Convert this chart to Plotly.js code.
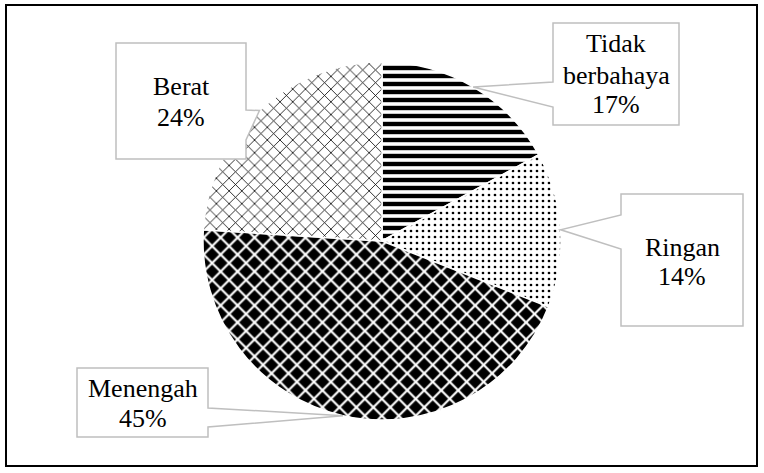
<!DOCTYPE html>
<html><head><meta charset="utf-8">
<script src="https://cdn.plot.ly/plotly-3.0.1.min.js"></script>
<style>html,body{margin:0;padding:0;background:#fff}#chart{width:764px;height:473px}</style>
</head><body><div id="chart"></div>
<script>
// ---- data ----
const categories = ["Tidak berbahaya", "Ringan", "Menengah", "Berat"];
const values = [17, 14, 45, 24];

// ---- styles (not data) ----
const W = 764, H = 473;
const pieCx = 382, pieCy = 241, pieR = 179;
const patShapes = ["-", ".", "x", "x"];
const patFg = ["#000", "#000", "#fff", "#000"];
const patBg = ["#fff", "#fff", "#000", "#fff"];
const patSize = [8, 6, 12, 9];
const patSolid = [0.55, 0.16, 0.33, 0.17];
// callout boxes in pixels
const boxes = [
  {x0: 553, x1: 679, y0: 23, y1: 125, side: "left", j1: 82, j2: 107, base: [53, 84, 113]},
  {x0: 621, x1: 743, y0: 194, y1: 326, side: "left", j1: 215, j2: 249, base: [256, 285]},
  {x0: 77, x1: 208, y0: 368, y1: 437, side: "right", j1: 408, j2: 427, base: [397, 427]},
  {x0: 116, x1: 246, y0: 43, y1: 159, side: "right", j1: 110, j2: 140, base: [96, 127]}
];
const fontFam = "Liberation Serif, Times New Roman, serif";
const fs = 26;

const px = x => x / W;
const py = y => 1 - y / H;

const total = values.reduce((a, b) => a + b, 0);
let cum = 0;
const shapes = [];
const annotations = [];
categories.forEach((c, i) => {
  const mid = (cum + values[i] / 2) / total * 2 * Math.PI;
  cum += values[i];
  const tx = pieCx + pieR * Math.sin(mid);
  const ty = pieCy - pieR * Math.cos(mid);
  const b = boxes[i];
  let p;
  if (b.side === "left") {
    p = `M${px(b.x0)},${py(b.y0)} L${px(b.x1)},${py(b.y0)} L${px(b.x1)},${py(b.y1)} L${px(b.x0)},${py(b.y1)} L${px(b.x0)},${py(b.j2)} L${px(tx)},${py(ty)} L${px(b.x0)},${py(b.j1)} Z`;
  } else {
    p = `M${px(b.x0)},${py(b.y0)} L${px(b.x1)},${py(b.y0)} L${px(b.x1)},${py(b.j1)} L${px(tx)},${py(ty)} L${px(b.x1)},${py(b.j2)} L${px(b.x1)},${py(b.y1)} L${px(b.x0)},${py(b.y1)} Z`;
  }
  shapes.push({type: "path", xref: "paper", yref: "paper", path: p,
    fillcolor: "#fff", line: {color: "#bfbfbf", width: 1.5}, layer: "above"});
  const lines = c.split(" ").concat([Math.round(values[i] / total * 100) + "%"]);
  const cx = (b.x0 + b.x1) / 2;
  lines.forEach((t, k) => {
    annotations.push({xref: "paper", yref: "paper", x: px(cx), y: py(b.base[k] - 9),
      xanchor: "center", yanchor: "middle", showarrow: false, text: t,
      font: {family: fontFam, size: fs, color: "#000"}});
  });
});
shapes.push({type: "rect", xref: "paper", yref: "paper", x0: px(6), x1: px(757), y0: py(5), y1: py(466),
  line: {color: "#000", width: 2}, fillcolor: "rgba(0,0,0,0)", layer: "above"});

const trace = {
  type: "pie", labels: categories, values: values, sort: false,
  direction: "clockwise", rotation: 0, textinfo: "none", hoverinfo: "none",
  showlegend: false,
  domain: {x: [px(pieCx - pieR), px(pieCx + pieR)], y: [py(pieCy + pieR), py(pieCy - pieR)]},
  marker: {colors: patBg, line: {color: "#fff", width: 1.5},
    pattern: {shape: patShapes, fgcolor: patFg, bgcolor: patBg, size: patSize,
      solidity: patSolid, fillmode: "replace"}}
};

Plotly.newPlot("chart", [trace], {
  width: W, height: H, margin: {l: 0, r: 0, t: 0, b: 0},
  paper_bgcolor: "#fff", showlegend: false,
  shapes: shapes, annotations: annotations
}, {staticPlot: true, displayModeBar: false});
</script></body></html>
